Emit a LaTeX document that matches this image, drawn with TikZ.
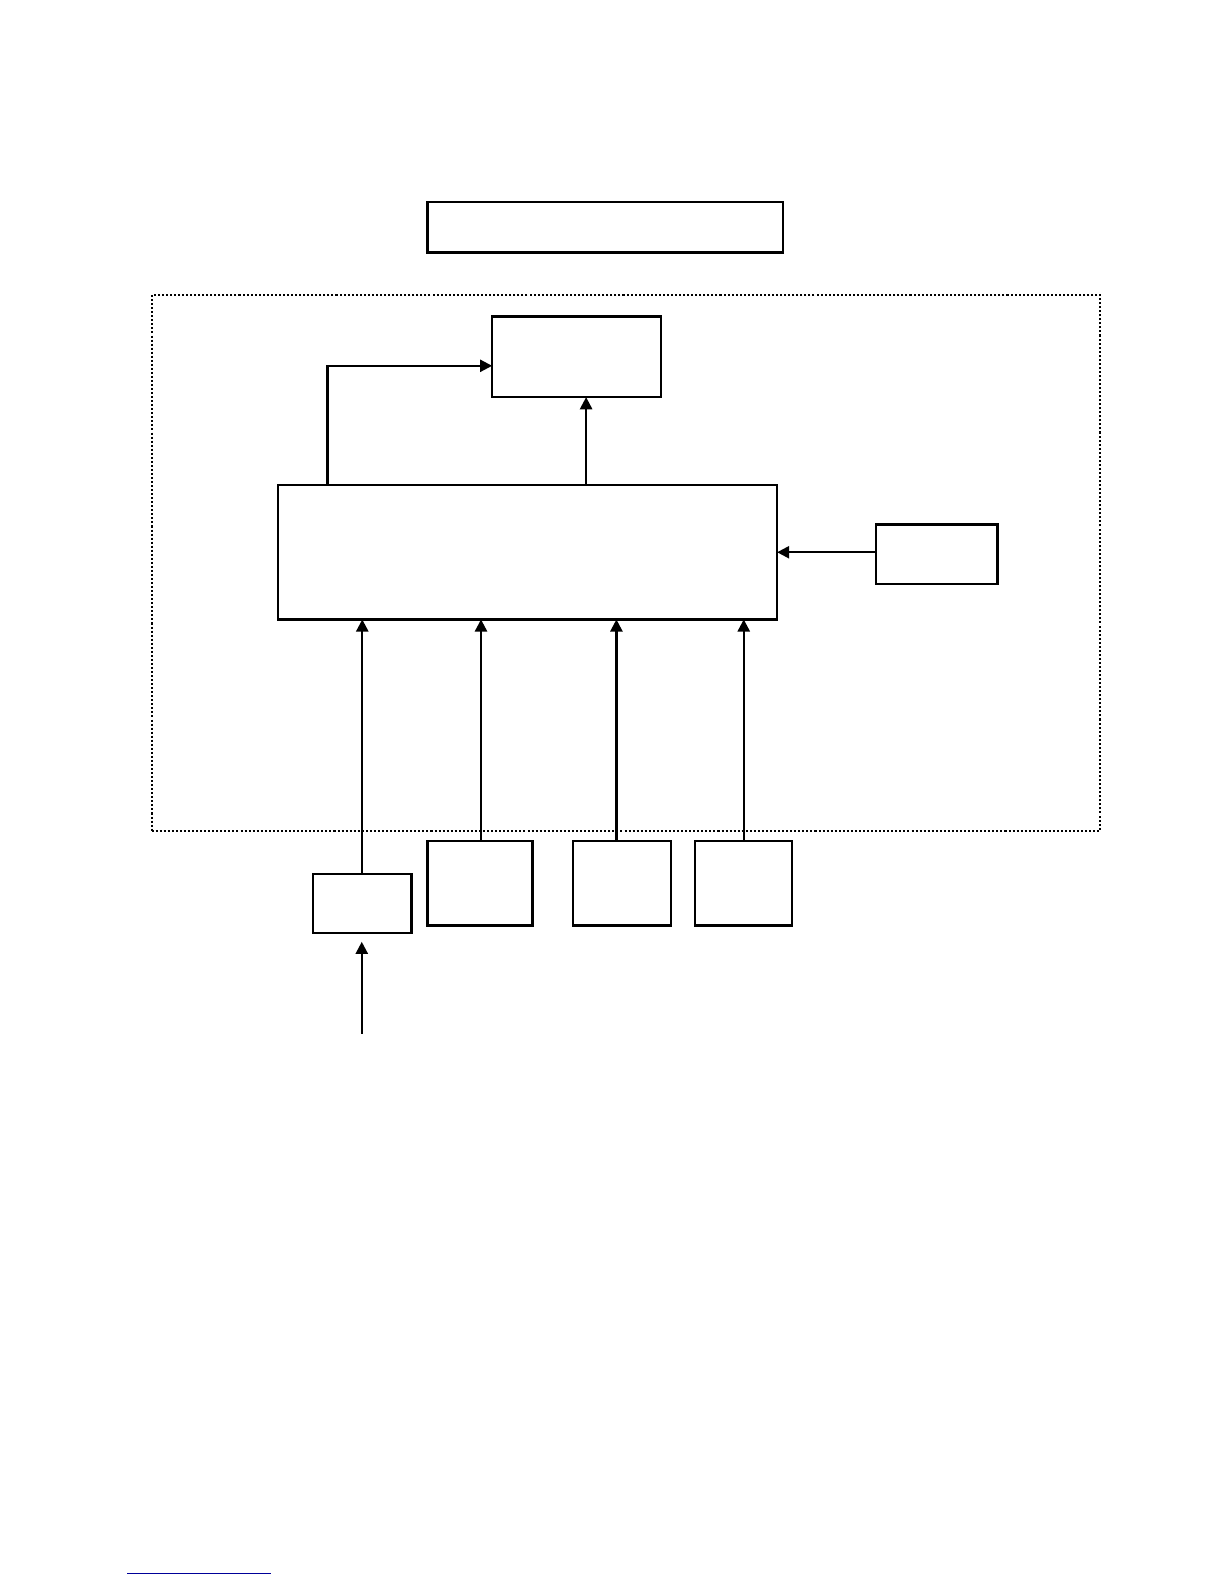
\documentclass[tikz,border=0pt]{standalone}
\usetikzlibrary{arrows.meta}
\begin{document}
\begin{tikzpicture}[x=0.5pt,y=-0.5pt,
  box/.style={draw=black, line width=1.2pt, rectangle, inner sep=0pt, outer sep=0pt, fill=white},
  frame/.style={draw=black, line width=1pt, dash pattern=on 1pt off 1pt, rectangle, inner sep=0pt, outer sep=0pt},
  arr/.style={draw=black, line width=1.1pt, -{Triangle[length=6pt,width=6pt]}}]
\useasboundingbox (0,0) rectangle (1211.3,1567.5);
\node[frame, minimum width=469.5pt, minimum height=265pt] (F) at (619.5,557) {};
\node[box, minimum width=176pt, minimum height=25pt] (T) at (599,225) {};
\node[box, minimum width=83.5pt, minimum height=40pt] (A) at (570.5,353) {};
\node[box, minimum width=247pt, minimum height=66.5pt] (M) at (522,546.5) {};
\node[box, minimum width=60pt, minimum height=29.5pt] (R) at (927,548.5) {};
\node[box, minimum width=48.5pt, minimum height=29pt] (B1) at (358.5,894) {};
\node[box, minimum width=52pt, minimum height=42pt] (B2) at (475,874) {};
\node[box, minimum width=48.5pt, minimum height=42pt] (B3) at (615.5,874) {};
\node[box, minimum width=48pt, minimum height=42pt] (B4) at (736,874) {};
\coordinate (IN) at (358,1023);
% arrows into A
\draw[arr] ([xshift=-99pt]M.north) |- ([yshift=-4.5pt]A.west);
\draw[arr] ([xshift=29pt]M.north) -- ([xshift=29pt]M.north |- A.south);
% arrow from R into M
\draw[arr] ([yshift=1pt]R.west) -- ([yshift=1pt]R.west -| M.east);
% arrows from bottom boxes into M
\draw[arr] (B1.north) -- (B1.north |- M.south);
\draw[arr] ([xshift=0.5pt]B2.north) -- ([xshift=0.5pt]B2.north |- M.south);
\draw[arr] ([xshift=-2.75pt]B3.north) -- ([xshift=-2.75pt]B3.north |- M.south);
\draw[arr] (B4.north) -- (B4.north |- M.south);
% input arrow into B1
\draw[arr, shorten >=4.5pt] (IN) -- (IN |- B1.south);
% footnote rule
\draw[blue!60!black, line width=0.7pt] (126,1557) -- (268,1557);
\end{tikzpicture}
\end{document}
